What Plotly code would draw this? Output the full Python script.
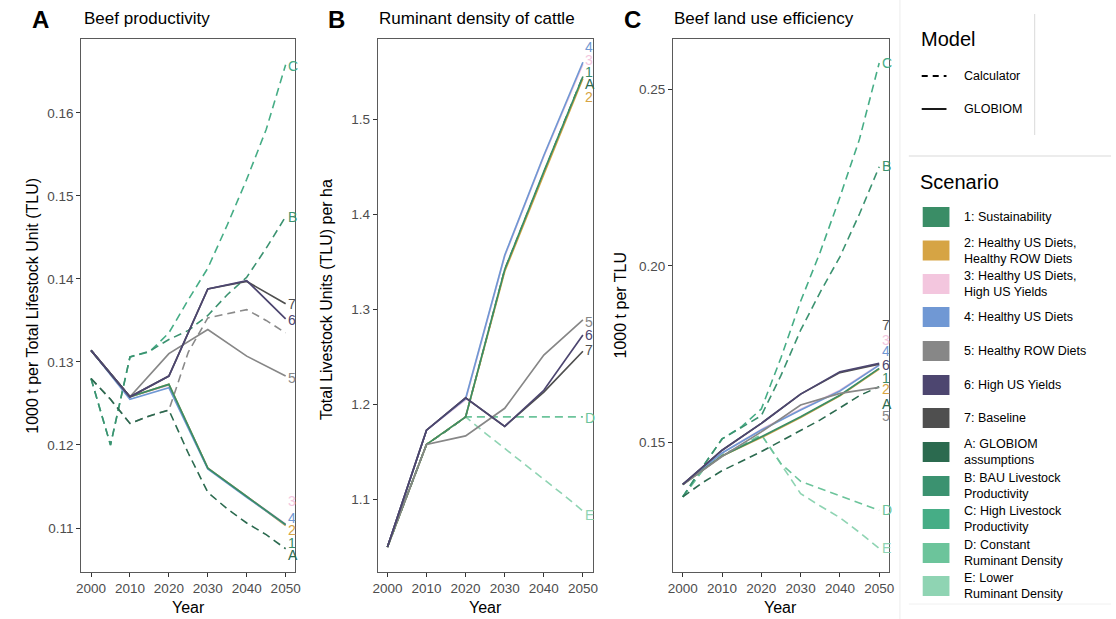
import plotly.graph_objects as go

# ---------------- data ----------------
YEARS_GLOBIOM = [2000, 2010, 2020, 2030, 2040, 2050]
YEARS_CALC = [2000, 2005, 2010, 2015, 2020, 2025, 2030, 2035, 2040, 2045, 2050]

SCENARIO_KEYS = ["1", "2", "3", "4", "5", "6", "7", "A", "B", "C", "D", "E"]
SCENARIO_NAMES = [
    "1: Sustainability",
    "2: Healthy US Diets,<br>Healthy ROW Diets",
    "3: Healthy US Diets,<br>High US Yields",
    "4: Healthy US Diets",
    "5: Healthy ROW Diets",
    "6: High US Yields",
    "7: Baseline",
    "A: GLOBIOM<br>assumptions",
    "B: BAU Livestock<br>Productivity",
    "C: High Livestock<br>Productivity",
    "D: Constant<br>Ruminant Density",
    "E: Lower<br>Ruminant Density",
]

# Panel A: beef productivity (1000 t per TLU)
prod_globiom = {
    "3": [0.1314, 0.1258, 0.1272, 0.1172, 0.1138, 0.1105],
    "2": [0.1314, 0.1258, 0.1273, 0.1172, 0.1138, 0.1103],
    "4": [0.1314, 0.1255, 0.1269, 0.1171, 0.1137, 0.1104],
    "1": [0.1314, 0.1258, 0.1273, 0.1172, 0.1138, 0.1104],
    "5": [0.1314, 0.1258, 0.1310, 0.1339, 0.1307, 0.1283],
    "7": [0.1314, 0.1258, 0.1283, 0.1388, 0.1397, 0.1370],
    "6": [0.1314, 0.1258, 0.1283, 0.1388, 0.1398, 0.1352],
}
prod_calc = {
    "C": [0.1280, 0.1200, 0.1306, 0.1312, 0.1335, 0.1375, 0.1413, 0.1465, 0.1520, 0.1580, 0.1658],
    "B": [0.1280, 0.1200, 0.1306, 0.1313, 0.1327, 0.1338, 0.1356, 0.1381, 0.1402, 0.1437, 0.1475],
    "A": [0.1280, 0.1255, 0.1226, 0.1235, 0.1242, 0.1190, 0.1143, 0.1123, 0.1106, 0.1092, 0.1075],
}
prod_calc_gray = [0.1280, 0.1255, 0.1226, 0.1235, 0.1242, 0.1312, 0.1353, 0.1358, 0.1363, 0.1350, 0.1335]

# Panel B: ruminant density (TLU per ha)
dens_globiom = {
    "3": [1.050, 1.173, 1.205, 1.356, 1.461, 1.558],
    "2": [1.050, 1.158, 1.187, 1.340, 1.442, 1.543],
    "4": [1.050, 1.173, 1.206, 1.357, 1.462, 1.560],
    "1": [1.050, 1.158, 1.187, 1.342, 1.445, 1.545],
    "5": [1.050, 1.158, 1.167, 1.196, 1.252, 1.289],
    "7": [1.050, 1.173, 1.207, 1.177, 1.213, 1.256],
    "6": [1.050, 1.173, 1.207, 1.177, 1.215, 1.273],
}
dens_calc = {
    "E": [1.050, 1.104, 1.158, 1.172, 1.187, 1.170, 1.154, 1.137, 1.121, 1.105, 1.088],
    "D": [1.050, 1.104, 1.158, 1.172, 1.187, 1.187, 1.187, 1.187, 1.187, 1.187, 1.187],
    "A": [1.050, 1.104, 1.158, 1.172, 1.187, 1.264, 1.342, 1.393, 1.445, 1.495, 1.545],
}

# Panel C: beef land use efficiency (1000 t per TLU)
eff_globiom = {
    "3": [0.1381, 0.1470, 0.1537, 0.1594, 0.1648, 0.1720],
    "2": [0.1381, 0.1462, 0.1514, 0.1571, 0.1632, 0.1708],
    "4": [0.1381, 0.1470, 0.1535, 0.1592, 0.1646, 0.1719],
    "1": [0.1381, 0.1462, 0.1516, 0.1573, 0.1634, 0.1710],
    "5": [0.1381, 0.1460, 0.1530, 0.1606, 0.1639, 0.1656],
    "7": [0.1381, 0.1478, 0.1554, 0.1637, 0.1698, 0.1722],
    "6": [0.1381, 0.1478, 0.1554, 0.1637, 0.1700, 0.1724],
}
eff_calc = {
    "E": [0.1346, 0.1420, 0.1465, 0.1490, 0.1522, 0.1440, 0.1355, 0.1320, 0.1287, 0.1245, 0.1200],
    "D": [0.1346, 0.1420, 0.1465, 0.1490, 0.1522, 0.1440, 0.1390, 0.1370, 0.1350, 0.1330, 0.1308],
    "C": [0.1346, 0.1430, 0.1510, 0.1545, 0.1595, 0.1740, 0.1900, 0.2040, 0.2195, 0.2360, 0.2575],
    "B": [0.1346, 0.1430, 0.1510, 0.1542, 0.1576, 0.1690, 0.1818, 0.1926, 0.2026, 0.2148, 0.2281],
    "A": [0.1346, 0.1386, 0.1420, 0.1447, 0.1474, 0.1504, 0.1534, 0.1564, 0.1598, 0.1633, 0.1658],
}

# end-of-line (repelled) label positions, in data units
labels_prod = {"C": 0.1657, "B": 0.1475, "7": 0.1370, "6": 0.1350, "5": 0.1281,
               "3": 0.1132, "4": 0.1112, "2": 0.1098, "1": 0.1082, "A": 0.1067}
labels_dens = {"4": 1.5764, "3": 1.5624, "1": 1.5500, "A": 1.5370, "2": 1.5238,
               "5": 1.2870, "6": 1.2730, "7": 1.2570, "D": 1.1863, "E": 1.0835}
labels_eff = {"C": 0.2575, "B": 0.2283, "7": 0.1832, "3": 0.1790, "4": 0.1759,
              "6": 0.1719, "1": 0.1682, "2": 0.1651, "A": 0.1609, "5": 0.1575,
              "D": 0.1308, "E": 0.1200}

# ---------------- styles ----------------
COLORS = {
    "1": "#3a8d66", "2": "#d6a444", "3": "#f3c6de", "4": "#7098d4",
    "5": "#878787", "6": "#4d4670", "7": "#4f4f4f",
    "A": "#2b6a4f", "B": "#3b9270", "C": "#46ad86", "D": "#6cc49b", "E": "#8fd4b3",
}
GRAY_DASH = "#8a8a8a"
FONT = "Liberation Sans, Arial, sans-serif"
W, H = 1116, 619
DASH = "8px,5px"


def px(x):
    return x / W


def py(y):
    return 1 - y / H


fig = go.Figure()

panels = [
    dict(ax="", glob=prod_globiom, calc=prod_calc, extra=prod_calc_gray, labels=labels_prod),
    dict(ax="2", glob=dens_globiom, calc=dens_calc, extra=None, labels=labels_dens),
    dict(ax="3", glob=eff_globiom, calc=eff_calc, extra=None, labels=labels_eff),
]

annotations = []
for p in panels:
    xa, ya = "x" + p["ax"], "y" + p["ax"]
    if p["extra"] is not None:
        fig.add_trace(go.Scatter(x=YEARS_CALC, y=p["extra"], mode="lines", xaxis=xa, yaxis=ya,
                                 line=dict(color=GRAY_DASH, width=1.6, dash=DASH),
                                 showlegend=False, hoverinfo="skip"))
    for k, vals in p["calc"].items():
        fig.add_trace(go.Scatter(x=YEARS_CALC, y=vals, mode="lines", xaxis=xa, yaxis=ya,
                                 line=dict(color=COLORS[k], width=1.6, dash=DASH),
                                 showlegend=False, name=k))
    for k, vals in p["glob"].items():
        fig.add_trace(go.Scatter(x=YEARS_GLOBIOM, y=vals, mode="lines", xaxis=xa, yaxis=ya,
                                 line=dict(color=COLORS[k], width=1.7),
                                 showlegend=False, name=k))
    for k, yv in p["labels"].items():
        annotations.append(dict(x=2050.1, y=yv, xref=xa, yref=ya, text=k, showarrow=False,
                                xanchor="left", yanchor="middle",
                                font=dict(family=FONT, size=14, color=COLORS[k])))

domains_x = [[px(77), px(293)], [px(376), px(593)], [px(674), px(892)]]
dom_y = [py(572), py(39)]
yranges = [[0.1047, 0.1689], [1.0238, 1.5845], [0.1133, 0.2643]]
ytick = [dict(tickvals=[0.11, 0.12, 0.13, 0.14, 0.15, 0.16], tickformat=".2f"),
         dict(tickvals=[1.1, 1.2, 1.3, 1.4, 1.5], tickformat=".1f"),
         dict(tickvals=[0.15, 0.20, 0.25], tickformat=".2f")]

axis_common = dict(showline=True, mirror=True, linecolor="#5a5a5a", linewidth=1,
                   ticks="outside", ticklen=4, tickcolor="#333333", tickwidth=1,
                   showgrid=False, zeroline=False,
                   tickfont=dict(family=FONT, size=13.5, color="#4d4d4d"))

layout = dict(width=W, height=H, margin=dict(l=0, r=0, t=0, b=0),
              paper_bgcolor="white", plot_bgcolor="white", showlegend=False)
for i in range(3):
    s = "" if i == 0 else str(i + 1)
    layout["xaxis" + s] = dict(domain=domains_x[i], range=[1997.5, 2052.5],
                               tickvals=[2000, 2010, 2020, 2030, 2040, 2050],
                               anchor="y" + s, **axis_common)
    layout["yaxis" + s] = dict(domain=dom_y, range=yranges[i], anchor="x" + s,
                               **ytick[i], **axis_common)
fig.update_layout(**layout)

# panel titles, letters, axis titles
titles = [("A", 36, "Beef productivity", 78, 185, 27,
           "1000 t per Total Lifestock Unit (TLU)", 306),
          ("B", 334, "Ruminant density of cattle", 375, 484.5, 324,
           "Total Livestock Units (TLU) per ha", 300),
          ("C", 633, "Beef land use efficiency", 673, 783, 622,
           "1000 t per TLU", 305)]
for letter, lx, title, tx, cx, yx, ytitle, yy in titles:
    annotations.append(dict(x=px(lx), y=py(20), xref="paper", yref="paper", text="<b>%s</b>" % letter,
                            showarrow=False, xanchor="center", yanchor="middle",
                            font=dict(family=FONT, size=24, color="black")))
    annotations.append(dict(x=px(tx), y=py(18), xref="paper", yref="paper", text=title,
                            showarrow=False, xanchor="left", yanchor="middle",
                            font=dict(family=FONT, size=17, color="black")))
    annotations.append(dict(x=px(cx), y=py(607), xref="paper", yref="paper", text="Year",
                            showarrow=False, xanchor="center", yanchor="middle",
                            font=dict(family=FONT, size=16, color="black")))
    annotations.append(dict(x=px(yx), y=py(yy), xref="paper", yref="paper", text=ytitle,
                            showarrow=False, xanchor="center", yanchor="middle", textangle=-90,
                            font=dict(family=FONT, size=16, color="black")))

# ---------------- manual legend ----------------
shapes = []
LG = "#d9d9d9"
shapes.append(dict(type="line", xref="paper", yref="paper", x0=px(903), x1=px(903), y0=py(0), y1=py(619),
                   line=dict(color="#ececec", width=1)))
shapes.append(dict(type="line", xref="paper", yref="paper", x0=px(1039), x1=px(1039), y0=py(14), y1=py(135),
                   line=dict(color=LG, width=1)))
shapes.append(dict(type="line", xref="paper", yref="paper", x0=px(912), x1=px(1116), y0=py(156), y1=py(156),
                   line=dict(color=LG, width=1)))
shapes.append(dict(type="line", xref="paper", yref="paper", x0=px(912), x1=px(1116), y0=py(604), y1=py(604),
                   line=dict(color="#f0f0f0", width=1)))

annotations.append(dict(x=px(922), y=py(39), xref="paper", yref="paper", text="Model", showarrow=False,
                        xanchor="left", yanchor="middle", font=dict(family=FONT, size=20, color="black")))
for label, yline, dash in [("Calculator", 76, "dash"), ("GLOBIOM", 109, "solid")]:
    shapes.append(dict(type="line", xref="paper", yref="paper", x0=px(925), x1=px(950),
                       y0=py(yline), y1=py(yline),
                       line=dict(color="black", width=1.8, dash="6px,5px" if dash == "dash" else "solid")))
    annotations.append(dict(x=px(966), y=py(yline), xref="paper", yref="paper", text=label, showarrow=False,
                            xanchor="left", yanchor="middle", font=dict(family=FONT, size=12.5, color="black")))

annotations.append(dict(x=px(921), y=py(182), xref="paper", yref="paper", text="Scenario", showarrow=False,
                        xanchor="left", yanchor="middle", font=dict(family=FONT, size=20, color="black")))
row_centers = [217, 250.5, 284, 317, 351, 385, 418, 452, 486, 519, 553, 586]
for k, name, yc in zip(SCENARIO_KEYS, SCENARIO_NAMES, row_centers):
    shapes.append(dict(type="rect", xref="paper", yref="paper", x0=px(926), x1=px(953),
                       y0=py(yc + 10), y1=py(yc - 10), fillcolor=COLORS[k], line=dict(width=0)))
    annotations.append(dict(x=px(966), y=py(yc), xref="paper", yref="paper", text=name, showarrow=False,
                            xanchor="left", yanchor="middle", align="left",
                            font=dict(family=FONT, size=12.5, color="black")))

fig.update_layout(shapes=shapes, annotations=annotations)
fig.write_html("out.html")
